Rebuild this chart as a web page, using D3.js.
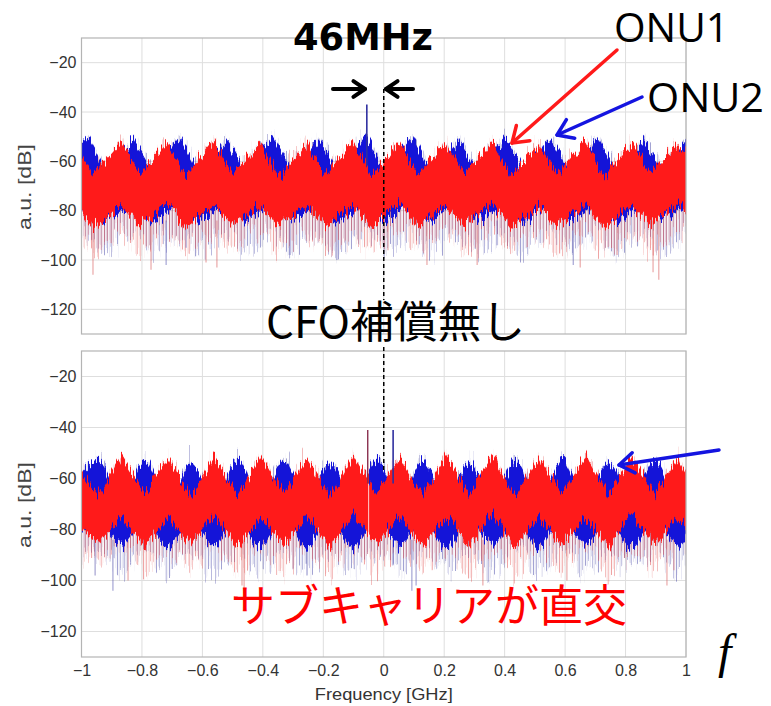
<!DOCTYPE html>
<html>
<head>
<meta charset="utf-8">
<script src="https://cdnjs.cloudflare.com/ajax/libs/d3/7.8.5/d3.min.js"></script>
<style>
  body { margin: 0; background: #fff; }
  svg { display: block; }
</style>
</head>
<body>
<svg id="chart" width="771" height="706"></svg>
<script>
// ---- axes ----
var xTicks = [-1, -0.8, -0.6, -0.4, -0.2, 0, 0.2, 0.4, 0.6, 0.8, 1];
var xTickLabels = ["\u22121", "\u22120.8", "\u22120.6", "\u22120.4", "\u22120.2", "0", "0.2", "0.4", "0.6", "0.8", "1"];
var yTicks = [-20, -40, -60, -80, -100, -120];
var yTickLabels = ["\u221220", "\u221240", "\u221260", "\u221280", "\u2212100", "\u2212120"];

// ---- envelope vertices (GHz): band end, troughs and peaks ----
// upper panel: sawtooth (fast fall, slow rise), ONU2 sits 46MHz to the right of ONU1
var topRedF = [-1, -0.962, -0.868, -0.808, -0.715, -0.655, -0.561, -0.501, -0.408, -0.348, -0.254, -0.194, -0.101, -0.041,
               0.053, 0.113, 0.206, 0.266, 0.360, 0.420, 0.513, 0.573, 0.667, 0.727, 0.820, 0.880, 0.974, 1];
var topBlueF = [-1, -0.980, -0.920, -0.826, -0.766, -0.673, -0.613, -0.519, -0.459, -0.366, -0.306, -0.212, -0.152, -0.059,
                0.001, 0.095, 0.155, 0.248, 0.308, 0.402, 0.462, 0.555, 0.615, 0.709, 0.769, 0.862, 0.922, 1];
// lower panel: symmetric ripple, ONU2 peaks fall on ONU1 troughs
var botF = [-1, -0.945, -0.868, -0.791, -0.715, -0.638, -0.561, -0.484, -0.408, -0.331, -0.254, -0.177, -0.101, -0.024,
            0.053, 0.129, 0.206, 0.283, 0.360, 0.436, 0.513, 0.590, 0.667, 0.743, 0.820, 0.897, 0.974, 1];

var topRedHi   = [-57, -65, -52, -65, -53, -66, -52, -65, -53, -66, -53, -65, -52, -66, -53, -65, -52, -65, -52, -66, -53, -65, -52, -66, -53, -65, -53, -57];
var topRedLo   = [-80, -87, -78, -86, -77, -87, -78, -86, -78, -87, -77, -86, -78, -87, -77, -86, -78, -86, -77, -87, -78, -86, -77, -87, -78, -86, -77, -80];
var topRedTail = [-90, -97, -88, -96, -88, -97, -89, -96, -88, -97, -88, -96, -89, -97, -88, -96, -88, -97, -88, -96, -89, -97, -88, -96, -88, -97, -88, -90];
var topBlueHi   = [-53, -50, -64, -51, -64, -50, -64, -51, -64, -50, -64, -51, -64, -49, -64, -50, -64, -51, -64, -50, -64, -51, -64, -50, -64, -51, -64, -52];
var topBlueLo   = [-79, -77, -84, -76, -85, -77, -84, -77, -85, -76, -84, -77, -85, -76, -84, -77, -85, -76, -84, -77, -85, -76, -84, -77, -85, -76, -84, -78];
var topBlueTail = [-91, -89, -97, -88, -98, -89, -97, -89, -98, -88, -97, -89, -98, -88, -97, -89, -98, -88, -97, -89, -98, -88, -97, -89, -98, -88, -97, -90];

var botRedHi   = [-57, -67, -51, -66, -52, -67, -51, -67, -51, -66, -52, -67, -51, -66, -52, -67, -51, -66, -51, -67, -52, -66, -51, -67, -51, -66, -52, -58];
var botRedLo   = [-79, -86, -75, -87, -75, -86, -74, -87, -75, -86, -75, -87, -74, -86, -75, -87, -75, -86, -74, -87, -75, -86, -75, -87, -74, -86, -75, -78];
var botRedTail = [-89, -96, -86, -97, -87, -96, -86, -97, -87, -96, -86, -97, -87, -96, -86, -97, -87, -96, -86, -97, -87, -96, -86, -97, -87, -96, -86, -88];
var botBlueHi   = [-58, -53, -68, -53, -68, -54, -68, -53, -68, -53, -68, -54, -68, -53, -68, -53, -68, -54, -68, -53, -68, -53, -68, -54, -68, -53, -68, -63];
var botBlueLo   = [-80, -76, -86, -76, -87, -77, -86, -76, -87, -76, -86, -77, -87, -76, -86, -76, -87, -77, -86, -76, -87, -76, -86, -77, -87, -76, -86, -83];
var botBlueTail = [-91, -88, -97, -88, -96, -89, -97, -88, -96, -88, -97, -89, -96, -88, -97, -88, -96, -89, -97, -88, -96, -88, -97, -89, -96, -88, -97, -93];

// deep single-bin dips [GHz, dB]
var topSpikesRed  = [[-0.962, -106], [-0.770, -104], [-0.588, -101], [-0.552, -103], [0.014, -96], [0.143, -102], [0.309, -102], [0.650, -103], [0.772, -98], [0.891, -105], [0.910, -108]];
var topSpikesBlue = [[-0.720, -102], [-0.654, -95], [-0.310, -98], [-0.155, -100], [0.375, -94], [0.627, -102]];
var botSpikesRed  = [[-0.846, -100], [-0.469, -102], [-0.462, -105], [0.328, -102], [0.606, -100], [0.937, -102], [0.960, -96]];
var botSpikesBlue = [[-0.955, -98], [-0.896, -104], [-0.254, -98], [0.031, -94], [0.093, -104], [0.107, -102]];

// carrier lines [GHz, peak dB]
var topCarrierBlue = [[-0.056, -37]];
var botCarrierRed  = [[-0.053, -41]];
var botCarrierBlue = [[0.031, -41]];
var botNotch = [[-0.050, -62, -82]];

var svg = d3.select("#chart");
var defs = svg.append("defs");
var tickFont = "'Liberation Sans', Arial, sans-serif";

var x = d3.scaleLinear().domain([-1, 1]).range([81.5, 686]);

function jagFilter(id, scale, fx, fy, seed) {
  var f = defs.append("filter").attr("id", id)
    .attr("x", "-2%").attr("y", "-40%").attr("width", "104%").attr("height", "180%")
    .attr("color-interpolation-filters", "sRGB");
  f.append("feTurbulence").attr("type", "fractalNoise").attr("baseFrequency", fx + " " + fy)
    .attr("numOctaves", 2).attr("seed", seed).attr("result", "noise");
  f.append("feColorMatrix").attr("in", "noise").attr("type", "matrix")
    .attr("values", "0 0 0 0 0.5  0 1 0 0 0  0 0 1 0 0  0 0 0 0 1").attr("result", "map");
  f.append("feDisplacementMap").attr("in", "SourceGraphic").attr("in2", "map")
    .attr("scale", scale).attr("xChannelSelector", "R").attr("yChannelSelector", "G");
}
jagFilter("jagCoreA", 26, 0.6, 0.03, 3);
jagFilter("jagCoreB", 26, 0.6, 0.03, 11);
jagFilter("jagTailA", 55, 0.45, 0.015, 5);
jagFilter("jagTailB", 55, 0.45, 0.015, 17);

function hatch(id, color) {
  var p = defs.append("pattern").attr("id", id).attr("patternUnits", "userSpaceOnUse")
    .attr("width", 13).attr("height", 30);
  [[0, 1, 0.5], [1.8, 0.7, 0.28], [3.1, 1, 0.42], [5.2, 0.6, 0.2], [6.6, 1.1, 0.5],
   [8.7, 0.7, 0.25], [9.9, 0.9, 0.38], [11.6, 0.6, 0.18]].forEach(function(s) {
    p.append("rect").attr("x", s[0]).attr("y", 0).attr("width", s[1]).attr("height", 30)
      .attr("fill", color).attr("opacity", s[2]);
  });
}
hatch("hatchRed", "#e04a4a");
hatch("hatchBlue", "#4848a8");

function rows(F, hi, lo, tail) {
  return F.map(function(f, i) { return {f: f, hi: hi[i], lo: lo[i], tail: tail[i]}; });
}

function drawPanel(p) {
  var y = p.y;
  var top = y.range()[1], bottom = y.range()[0];
  var g = svg.append("g");

  g.selectAll("line.vgrid").data(xTicks).enter().append("line")
    .attr("x1", function(d) { return x(d); }).attr("x2", function(d) { return x(d); })
    .attr("y1", top).attr("y2", bottom).attr("stroke", "#dedede").attr("stroke-width", 1);
  g.selectAll("line.hgrid").data(yTicks).enter().append("line")
    .attr("x1", x(-1)).attr("x2", x(1))
    .attr("y1", function(d) { return y(d); }).attr("y2", function(d) { return y(d); })
    .attr("stroke", "#dedede").attr("stroke-width", 1);

  defs.append("clipPath").attr("id", "clip-" + p.name).append("rect")
    .attr("x", x(-1)).attr("y", top).attr("width", x(1) - x(-1)).attr("height", bottom - top);
  var plot = g.append("g").attr("clip-path", "url(#clip-" + p.name + ")");

  function tailArea(curve) {
    return d3.area().curve(curve).x(function(d) { return x(d.f); })
      .y0(function(d) { return y(d.tail); }).y1(function(d) { return y(d.hi); });
  }
  function coreArea(curve) {
    return d3.area().curve(curve).x(function(d) { return x(d.f); })
      .y0(function(d) { return y(d.lo); }).y1(function(d) { return y(d.hi); });
  }

  plot.append("path").datum(p.blue).attr("d", tailArea(p.blueCurve)).attr("fill", "url(#hatchBlue)").attr("filter", "url(#jagTailA)");
  plot.append("path").datum(p.red).attr("d", tailArea(d3.curveLinear)).attr("fill", "url(#hatchRed)").attr("filter", "url(#jagTailB)");

  plot.selectAll("line.sb").data(p.spikesBlue).enter().append("line")
    .attr("x1", function(d) { return x(d[0]); }).attr("x2", function(d) { return x(d[0]); })
    .attr("y1", function(d) { return y(d[1]); }).attr("y2", y(-84))
    .attr("stroke", "#5a5ab0").attr("stroke-opacity", 0.55).attr("stroke-width", 1.2);
  plot.selectAll("line.sr").data(p.spikesRed).enter().append("line")
    .attr("x1", function(d) { return x(d[0]); }).attr("x2", function(d) { return x(d[0]); })
    .attr("y1", function(d) { return y(d[1]); }).attr("y2", y(-84))
    .attr("stroke", "#d86060").attr("stroke-opacity", 0.55).attr("stroke-width", 1.2);

  plot.append("path").datum(p.blue).attr("d", coreArea(p.blueCurve)).attr("fill", "#1414d8").attr("filter", "url(#jagCoreA)");
  plot.append("path").datum(p.red).attr("d", coreArea(d3.curveLinear)).attr("fill", "#ff1a1a").attr("filter", "url(#jagCoreB)");

  plot.selectAll("line.notch").data(p.notch).enter().append("line")
    .attr("x1", function(d) { return x(d[0]); }).attr("x2", function(d) { return x(d[0]); })
    .attr("y1", function(d) { return y(d[1]); }).attr("y2", function(d) { return y(d[2]); })
    .attr("stroke", "#fff").attr("stroke-opacity", 0.8).attr("stroke-width", 1);
  plot.selectAll("line.cb").data(p.carrierBlue).enter().append("line")
    .attr("x1", function(d) { return x(d[0]); }).attr("x2", function(d) { return x(d[0]); })
    .attr("y1", function(d) { return y(d[1]); }).attr("y2", y(-62))
    .attr("stroke", "#3030a0").attr("stroke-width", 1.6);
  plot.selectAll("line.cr").data(p.carrierRed).enter().append("line")
    .attr("x1", function(d) { return x(d[0]); }).attr("x2", function(d) { return x(d[0]); })
    .attr("y1", function(d) { return y(d[1]); }).attr("y2", y(-62))
    .attr("stroke", "#8a3050").attr("stroke-width", 1.4);

  g.append("rect").attr("x", x(-1)).attr("y", top).attr("width", x(1) - x(-1)).attr("height", bottom - top)
    .attr("fill", "none").attr("stroke", "#b4b4b4").attr("stroke-width", 1.2);

  var yAxis = d3.axisLeft(y).tickValues(yTicks)
    .tickFormat(function(d, i) { return yTickLabels[i]; }).tickSize(0).tickPadding(5);
  g.append("g").attr("transform", "translate(" + x(-1) + ",0)").call(yAxis)
    .call(function(a) { a.select(".domain").remove(); })
    .selectAll("text").attr("font-family", tickFont).attr("font-size", 16).attr("fill", "#333");

  svg.append("text").attr("transform", "translate(" + p.labelX + "," + p.labelY + ") rotate(-90)")
    .attr("text-anchor", "middle").attr("font-family", tickFont).attr("font-size", 18)
    .attr("fill", "#444").attr("textLength", 86).attr("lengthAdjust", "spacingAndGlyphs").text("a.u. [dB]");

  if (p.xLabels) {
    var xAxis = d3.axisBottom(x).tickValues(xTicks)
      .tickFormat(function(d, i) { return xTickLabels[i]; }).tickSize(0).tickPadding(8);
    g.append("g").attr("transform", "translate(0," + bottom + ")").call(xAxis)
      .call(function(a) { a.select(".domain").remove(); })
      .selectAll("text").attr("font-family", tickFont).attr("font-size", 16).attr("fill", "#333");
    svg.append("text").attr("x", x(0)).attr("y", 700).attr("text-anchor", "middle")
      .attr("font-family", tickFont).attr("font-size", 17).attr("fill", "#333")
      .attr("textLength", 138).attr("lengthAdjust", "spacingAndGlyphs").text("Frequency [GHz]");
  }
}

drawPanel({
  name: "top", y: d3.scaleLinear().domain([-130, -10]).range([334, 38]),
  red: rows(topRedF, topRedHi, topRedLo, topRedTail), blue: rows(topBlueF, topBlueHi, topBlueLo, topBlueTail),
  blueCurve: d3.curveLinear,
  spikesRed: topSpikesRed, spikesBlue: topSpikesBlue,
  carrierBlue: topCarrierBlue, carrierRed: [], notch: [],
  labelX: 31, labelY: 187, xLabels: false
});
drawPanel({
  name: "bot", y: d3.scaleLinear().domain([-130, -10]).range([657, 351]),
  red: rows(botF, botRedHi, botRedLo, botRedTail), blue: rows(botF, botBlueHi, botBlueLo, botBlueTail),
  blueCurve: d3.curveMonotoneX,
  spikesRed: botSpikesRed, spikesBlue: botSpikesBlue,
  carrierBlue: botCarrierBlue, carrierRed: botCarrierRed, notch: botNotch,
  labelX: 31, labelY: 505, xLabels: true
});

// ---- annotations ----
function arrow(x1, y1, x2, y2, color, width, head) {
  var a = Math.atan2(y2 - y1, x2 - x1), s = 0.6;
  var g = svg.append("g").attr("stroke", color).attr("stroke-width", width)
    .attr("stroke-linecap", "round").attr("stroke-linejoin", "round").attr("fill", "none");
  g.append("line").attr("x1", x1).attr("y1", y1).attr("x2", x2).attr("y2", y2);
  g.append("path").attr("d", "M" + (x2 - head * Math.cos(a - s)) + "," + (y2 - head * Math.sin(a - s)) +
    "L" + x2 + "," + y2 + "L" + (x2 - head * Math.cos(a + s)) + "," + (y2 - head * Math.sin(a + s)));
}

var xz = x(0);
svg.append("line").attr("x1", xz).attr("x2", xz).attr("y1", 89).attr("y2", 300)
  .attr("stroke", "#000").attr("stroke-width", 1.5).attr("stroke-dasharray", "4,3");
svg.append("line").attr("x1", xz).attr("x2", xz).attr("y1", 347).attr("y2", 473)
  .attr("stroke", "#000").attr("stroke-width", 1.5).attr("stroke-dasharray", "4,3");

arrow(333, 89, 365, 89, "#000", 4, 14);
arrow(413, 89, 386, 89, "#000", 4, 14);
arrow(617, 50, 512, 143, "#ff1a1a", 3.5, 18);
arrow(642, 97, 557, 135, "#1414e0", 3.5, 18);
arrow(719, 450, 619, 465, "#1414e0", 3.5, 18);

svg.append("text").attr("x", 293).attr("y", 50).attr("font-family", "'DejaVu Sans', sans-serif")
  .attr("font-weight", "bold").attr("font-size", 37).attr("fill", "#000")
  .attr("textLength", 140).attr("lengthAdjust", "spacingAndGlyphs").text("46MHz");
svg.append("text").attr("x", 614).attr("y", 42).attr("font-family", "'Open Sans', sans-serif")
  .attr("font-size", 40).attr("fill", "#000")
  .attr("textLength", 115).attr("lengthAdjust", "spacingAndGlyphs").text("ONU1");
svg.append("text").attr("x", 647).attr("y", 112).attr("font-family", "'Open Sans', sans-serif")
  .attr("font-size", 40).attr("fill", "#000")
  .attr("textLength", 117).attr("lengthAdjust", "spacingAndGlyphs").text("ONU2");
svg.append("text").attr("x", 266).attr("y", 338).attr("font-family", "'Noto Sans CJK JP', sans-serif")
  .attr("font-size", 44).attr("fill", "#000")
  .attr("textLength", 259).attr("lengthAdjust", "spacingAndGlyphs").text("CFO補償無し");
svg.append("text").attr("x", 231).attr("y", 622).attr("font-family", "'Noto Sans CJK JP', sans-serif")
  .attr("font-size", 44).attr("fill", "#ff0000")
  .attr("textLength", 396).attr("lengthAdjust", "spacingAndGlyphs").text("サブキャリアが直交");
svg.append("text").attr("x", 718).attr("y", 668).attr("font-family", "'Liberation Serif', serif")
  .attr("font-style", "italic").attr("font-size", 48).attr("fill", "#000").text("f");
</script>
</body>
</html>
